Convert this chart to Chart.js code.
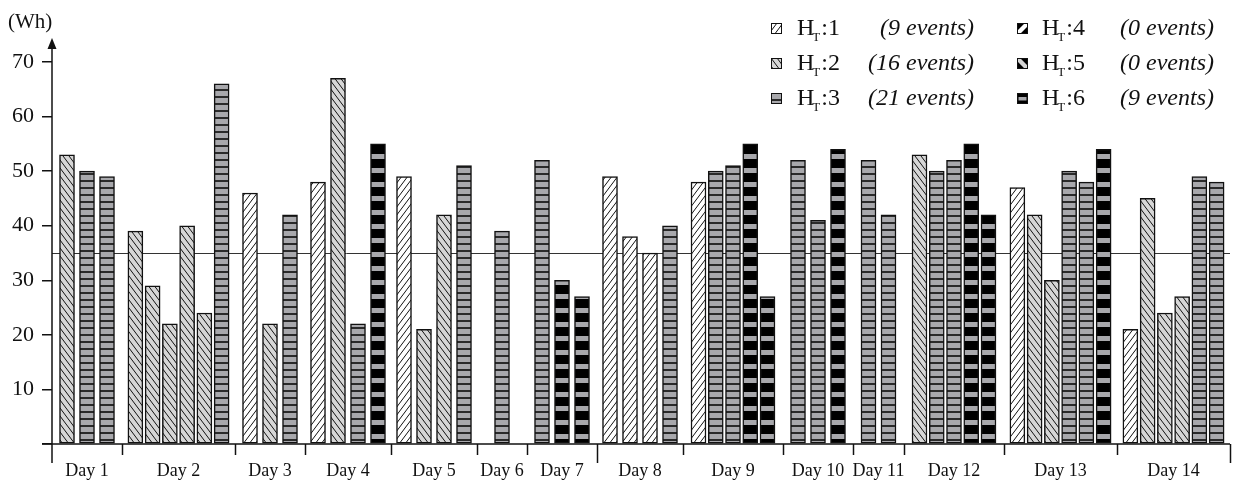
<!DOCTYPE html>
<html>
<head>
<meta charset="utf-8">
<title>Daily energy per event by H_T class</title>
<script src="https://cdn.jsdelivr.net/npm/chart.js@4.4.1/dist/chart.umd.min.js"></script>
<style>
  html, body { margin: 0; padding: 0; background: #fff; }
  canvas { display: block; }
</style>
</head>
<body>
<canvas id="chart" width="1235" height="482"></canvas>
<script>
// ---- data: energy per event (Wh), grouped by day, one array per H_T class ----
const days = ['Day 1', 'Day 2', 'Day 3', 'Day 4', 'Day 5', 'Day 6', 'Day 7',
              'Day 8', 'Day 9', 'Day 10', 'Day 11', 'Day 12', 'Day 13', 'Day 14'];

const ht1 = [[], [], [46], [48], [49], [], [], [49, 38, 35], [48], [], [], [], [47], [21]];
const ht2 = [[53], [39, 29, 22, 40, 24], [22], [67], [21, 42], [], [], [], [], [], [], [53], [42, 30], [45, 24, 27]];
const ht3 = [[50, 49], [66], [42], [22], [51], [39], [52], [40], [50, 51], [52, 41], [52, 42], [50, 52], [50, 48], [49, 48]];
const ht4 = [[], [], [], [], [], [], [], [], [], [], [], [], [], []];
const ht5 = [[], [], [], [], [], [], [], [], [], [], [], [], [], []];
const ht6 = [[], [], [], [55], [], [], [30, 27], [], [55, 27], [54], [], [55, 42], [54], []];

const classNames = ['1', '2', '3', '4', '5', '6'];
const yTickValues = [0, 10, 20, 30, 40, 50, 60, 70];
const threshold = 35;

// ---- layout of the day groups along the x axis ----
const groupSpan = { 1: 50, 2: 51, 3: 70, 4: 86, 5: 100, 6: 113 };
const BAR_W = 15;

const serif = '"Liberation Serif", "Times New Roman", serif';
const ink = '#111';

// ---- fill patterns ----
function hatch(bg, dir, line, lw) {
  const w = 6, h = 8;
  const c = document.createElement('canvas');
  c.width = w; c.height = h;
  const g = c.getContext('2d');
  g.fillStyle = bg; g.fillRect(0, 0, w, h);
  g.strokeStyle = line; g.lineWidth = lw;
  const k = h / w;
  for (const off of [-w, 0, w]) {
    g.beginPath();
    if (dir === '/') { g.moveTo(off - 2, h + 2 * k); g.lineTo(off + w + 2, -2 * k); }
    else { g.moveTo(off - 2, -2 * k); g.lineTo(off + w + 2, h + 2 * k); }
    g.stroke();
  }
  return g.createPattern(c, 'repeat');
}
function bands(period, light, lightRows, dark) {
  const c = document.createElement('canvas');
  c.width = 4; c.height = period;
  const g = c.getContext('2d');
  g.fillStyle = dark; g.fillRect(0, 0, 4, period);
  g.fillStyle = light; g.fillRect(0, 0, 4, lightRows);
  return g.createPattern(c, 'repeat');
}
const fills = [
  hatch('#ffffff', '/', ink, 1),
  hatch('#d6d6d6', '\\', ink, 1),
  bands(7, '#a8a8ac', 5, '#2a2a2a'),
  hatch('#000000', '/', '#ffffff', 2.5),
  hatch('#000000', '\\', '#d6d6d6', 2.5),
  bands(14, '#a8a8ac', 5, '#000000')
];

// ---- build bar positions from the per-day arrays ----
const series = [ht1, ht2, ht3, ht4, ht5, ht6];
const groups = [];
let cursor = 0;
days.forEach((d, di) => {
  const vals = [];
  series.forEach((s, si) => s[di].forEach(v => vals.push({ si, v })));
  const n = vals.length;
  const span = groupSpan[n];
  const pitch = n >= 5 ? 17.25 : 20;
  const centre = cursor + span / 2;
  vals.forEach((b, i) => { b.x = centre + (i - (n - 1) / 2) * pitch; });
  groups.push({ label: d, start: cursor, end: cursor + span, centre, vals });
  cursor += span;
});
const totalSpan = cursor;

const datasets = series.map((s, si) => ({
  label: 'H_T:' + classNames[si],
  data: groups.flatMap(g => g.vals.filter(b => b.si === si).map(b => ({ x: b.x, y: b.v }))),
  backgroundColor: fills[si],
  borderColor: ink,
  borderWidth: 1.5,
  borderSkipped: false,
  barThickness: BAR_W,
  grouped: false
}));
const eventCounts = series.map(s => s.reduce((a, d) => a + d.length, 0));

// small legend key: a single diagonal band on a solid ground
function bandKey(ctx, size, ground, band, dir) {
  ctx.fillStyle = ground;
  ctx.fillRect(0, 0, size, size);
  ctx.fillStyle = band;
  ctx.beginPath();
  const t = size * 0.28;
  if (dir === '/') {
    ctx.moveTo(0, size - t); ctx.lineTo(size - t, 0); ctx.lineTo(size, 0);
    ctx.lineTo(size, t); ctx.lineTo(t, size); ctx.lineTo(0, size);
  } else {
    ctx.moveTo(0, 0); ctx.lineTo(t, 0); ctx.lineTo(size, size - t);
    ctx.lineTo(size, size); ctx.lineTo(size - t, size); ctx.lineTo(0, t);
  }
  ctx.closePath(); ctx.fill();
}

// ---- decorations: axes, reference line, day separators, legend ----
const decor = {
  id: 'decor',
  beforeDatasetsDraw(chart) {
    const { ctx, chartArea: a, scales: { y } } = chart;
    ctx.save();
    ctx.strokeStyle = '#333';
    ctx.lineWidth = 1;
    const ty = Math.round(y.getPixelForValue(threshold)) + 0.5;
    ctx.beginPath(); ctx.moveTo(a.left, ty); ctx.lineTo(a.right, ty); ctx.stroke();
    ctx.restore();
  },
  afterDatasetsDraw(chart) {
    const { ctx, chartArea: a, scales: { x, y } } = chart;
    const y0 = y.getPixelForValue(0);
    ctx.save();
    ctx.strokeStyle = ink;
    ctx.fillStyle = ink;
    ctx.lineWidth = 1.5;

    // baseline
    ctx.beginPath(); ctx.moveTo(a.left - 10, y0); ctx.lineTo(a.right, y0); ctx.stroke();

    // vertical axis with arrow
    const tipY = y.getPixelForValue(74.4);
    ctx.beginPath(); ctx.moveTo(a.left, y0 + 19); ctx.lineTo(a.left, tipY + 6); ctx.stroke();
    ctx.beginPath();
    ctx.moveTo(a.left, tipY);
    ctx.lineTo(a.left - 4.5, tipY + 11);
    ctx.lineTo(a.left + 4.5, tipY + 11);
    ctx.closePath(); ctx.fill();

    // day separators (longer at the end of each week)
    groups.forEach((g, i) => {
      const px = Math.round(x.getPixelForValue(g.end)) + 0.5;
      const len = (i % 7 === 6) ? 19 : 11;
      ctx.beginPath(); ctx.moveTo(px, y0); ctx.lineTo(px, y0 + len); ctx.stroke();
    });

    // day labels
    ctx.font = '18px ' + serif;
    ctx.textAlign = 'center';
    ctx.textBaseline = 'alphabetic';
    groups.forEach(g => ctx.fillText(g.label, x.getPixelForValue(g.centre), y0 + 32));

    // unit label
    ctx.font = '21px ' + serif;
    ctx.textAlign = 'left';
    ctx.fillText('(Wh)', 8, 28);

    // legend
    const cols = [{ sw: 771, hx: 797, right: 974 }, { sw: 1017, hx: 1042, right: 1214 }];
    const baselines = [35, 70, 105];
    const KEY = 11;
    classNames.forEach((name, si) => {
      const col = cols[Math.floor(si / 3)];
      const bl = baselines[si % 3];
      // key
      ctx.save();
      ctx.translate(col.sw, bl - 12);
      if (si === 3) bandKey(ctx, KEY, '#000', '#fff', '/');
      else if (si === 4) bandKey(ctx, KEY, '#000', '#d6d6d6', '\\');
      else if (si === 5) {
        ctx.fillStyle = '#000'; ctx.fillRect(0, 0, KEY, KEY);
        ctx.fillStyle = '#a8a8ac'; ctx.fillRect(1.5, 4, KEY - 3, 3.5);
      } else if (si === 2) {
        ctx.translate(0, 1);
        ctx.fillStyle = fills[si]; ctx.fillRect(0, -1, KEY, KEY);
        ctx.translate(0, -1);
      } else {
        ctx.fillStyle = fills[si]; ctx.fillRect(0, 0, KEY, KEY);
      }
      ctx.lineWidth = 1;
      ctx.strokeStyle = ink;
      ctx.strokeRect(0.5, 0.5, KEY - 1, KEY - 1);
      ctx.restore();
      // text
      ctx.fillStyle = ink;
      ctx.textAlign = 'left';
      ctx.font = '24px ' + serif;
      ctx.fillText('H', col.hx, bl);
      let cx = col.hx + ctx.measureText('H').width;
      ctx.font = '13px ' + serif;
      ctx.fillText('T', cx - 2, bl + 6);
      cx += ctx.measureText('T').width - 1;
      ctx.font = '24px ' + serif;
      ctx.fillText(':' + name, cx, bl);
      ctx.font = 'italic 24px ' + serif;
      ctx.textAlign = 'right';
      ctx.fillText('(' + eventCounts[si] + ' events)', col.right, bl);
    });
    ctx.restore();
  }
};

new Chart(document.getElementById('chart'), {
  type: 'bar',
  data: { datasets },
  options: {
    responsive: false,
    devicePixelRatio: 1,
    animation: false,
    layout: { padding: { top: 62, right: 5, bottom: 38, left: 0 } },
    plugins: { legend: { display: false }, tooltip: { enabled: false } },
    scales: {
      x: { type: 'linear', min: 0, max: totalSpan, display: false, offset: false },
      y: {
        min: 0, max: 70,
        afterBuildTicks: s => { s.ticks = yTickValues.map(v => ({ value: v })); },
        afterFit: s => { s.width = 52; },
        ticks: {
          font: { family: serif, size: 22 },
          color: ink,
          padding: 8,
          callback: v => (v === 0 ? '' : String(v))
        },
        grid: { drawOnChartArea: false, drawTicks: true, tickLength: 10, color: ink, lineWidth: 1.5 },
        border: { display: false }
      }
    }
  },
  plugins: [decor]
});
</script>
</body>
</html>
